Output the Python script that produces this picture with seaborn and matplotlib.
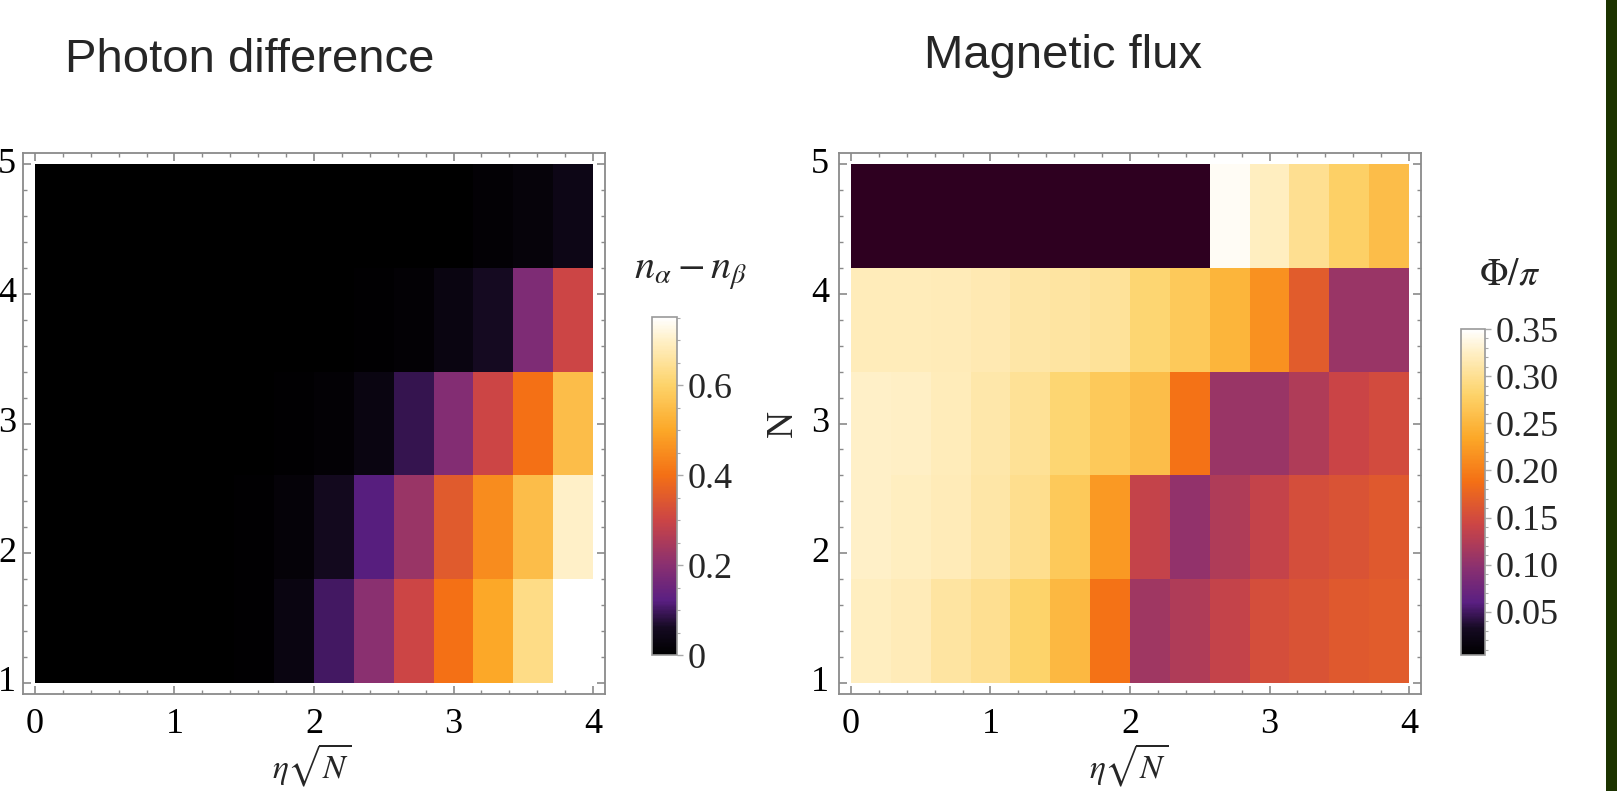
import numpy as np
import pandas as pd
import matplotlib
matplotlib.use("Agg")
import matplotlib.pyplot as plt
import seaborn as sns
from matplotlib.colors import LinearSegmentedColormap
from matplotlib.patches import Rectangle

sns.set_style("white")
plt.rcParams['font.family'] = ['Liberation Serif', 'DejaVu Serif']
plt.rcParams['mathtext.fontset'] = 'stix'

# grid: 14 columns over eta*sqrt(N) in [0, 4], rows N = 1..5
n_cols = 14
N_values = [5, 4, 3, 2, 1]

# photon difference n_alpha - n_beta
photon_N5 = [0, 0, 0, 0, 0, 0, 0, 0, 0, 0, 0, 0.01, 0.02, 0.04]
photon_N4 = [0, 0, 0, 0, 0, 0, 0, 0, 0.005, 0.01, 0.03, 0.06, 0.18, 0.30]
photon_N3 = [0, 0, 0, 0, 0, 0, 0.005, 0.01, 0.03, 0.09, 0.19, 0.30, 0.40, 0.55]
photon_N2 = [0, 0, 0, 0, 0, 0.005, 0.015, 0.055, 0.12, 0.225, 0.35, 0.45, 0.55, 0.70]
photon_N1 = [0, 0, 0, 0, 0, 0.005, 0.03, 0.10, 0.20, 0.30, 0.40, 0.50, 0.63, 0.75]

# magnetic flux Phi/pi (0 = outside the colour range)
flux_N5 = [0, 0, 0, 0, 0, 0, 0, 0, 0, 0.345, 0.322, 0.30, 0.278, 0.258]
flux_N4 = [0.32, 0.32, 0.318, 0.316, 0.31, 0.307, 0.304, 0.285, 0.27, 0.248, 0.215, 0.167, 0.108, 0.108]
flux_N3 = [0.327, 0.325, 0.32, 0.312, 0.302, 0.285, 0.27, 0.258, 0.19, 0.108, 0.108, 0.122, 0.142, 0.15]
flux_N2 = [0.327, 0.322, 0.318, 0.31, 0.298, 0.27, 0.222, 0.138, 0.102, 0.122, 0.138, 0.152, 0.158, 0.165]
flux_N1 = [0.322, 0.318, 0.308, 0.30, 0.28, 0.252, 0.19, 0.112, 0.122, 0.138, 0.152, 0.158, 0.165, 0.167]

photon = pd.DataFrame([photon_N5, photon_N4, photon_N3, photon_N2, photon_N1], index=N_values)
flux = pd.DataFrame([flux_N5, flux_N4, flux_N3, flux_N2, flux_N1], index=N_values)

sunset = LinearSegmentedColormap.from_list("sunset", [
    (0.00, "#000000"), (0.08, "#150a22"), (0.16, "#5a1f82"), (0.267, "#8a3070"),
    (0.40, "#cc4545"), (0.533, "#f47015"), (0.667, "#fca828"), (0.80, "#fdd36a"),
    (0.933, "#fff0c8"), (1.00, "#ffffff")])
sunset_flux = sunset.copy()
sunset_flux.set_under("#2e0020")

fig = plt.figure(figsize=(16.23, 7.91), dpi=100)
W, H = 1623, 791

def px(x0, y0, x1, y1):
    return [x0 / W, 1 - y1 / H, (x1 - x0) / W, (y1 - y0) / H]

ax1 = fig.add_axes(px(23, 153, 605, 694))
cax1 = fig.add_axes(px(652, 317, 677, 655))
ax2 = fig.add_axes(px(839, 153, 1421, 694))
cax2 = fig.add_axes(px(1461, 329, 1485, 655))

sns.heatmap(photon, ax=ax1, cbar_ax=cax1, cmap=sunset, vmin=0, vmax=0.752,
            linewidths=0, rasterized=True)
sns.heatmap(flux, ax=ax2, cbar_ax=cax2, cmap=sunset_flux, vmin=0.0044, vmax=0.35,
            linewidths=0, rasterized=True)

gray = "#8a8a8a"
for ax in (ax1, ax2):
    for s in ax.spines.values():
        s.set_visible(True)
        s.set_color(gray)
        s.set_linewidth(1.3)
    ax.set_xlim(-0.30, n_cols + 0.30)
    ax.set_ylim(5.106, -0.106)
    xt = [0, 1, 2, 3, 4]
    ax.set_xticks([v * n_cols / 4 for v in xt])
    ax.set_xticklabels([str(v) for v in xt], rotation=0)
    ax.set_xticks([v * n_cols / 4 for v in np.arange(0, 4.01, 0.2)], minor=True)
    yt = [1, 2, 3, 4, 5]
    ax.set_yticks([(5 - v) * 1.25 for v in yt])
    ax.set_yticklabels([str(v) for v in yt], rotation=0)
    ax.set_yticks([(5 - v) * 1.25 for v in np.arange(1, 5.01, 0.2)], minor=True)
    ax.tick_params(which='both', direction='in', top=True, right=True,
                   bottom=True, left=True, color=gray, labelcolor='black')
    ax.tick_params(which='major', length=6, width=1.2, labelsize=26)
    ax.tick_params(which='minor', length=3, width=1.0)
    ax.tick_params(axis='x', pad=10)
    ax.set_xlabel("")
    ax.set_ylabel("")

ax1.tick_params(axis='y', pad=5)
ax2.tick_params(axis='y', pad=7)
ax2.set_ylabel("N", fontsize=27, labelpad=8)

cb1 = ax1.collections[0].colorbar
cb1.set_ticks([0, 0.2, 0.4, 0.6], labels=["0", "0.2", "0.4", "0.6"])
cb1.set_ticks(np.arange(0, 0.751, 0.05), minor=True)
cb2 = ax2.collections[0].colorbar
cb2.set_ticks([0.05, 0.10, 0.15, 0.20, 0.25, 0.30, 0.35],
              labels=["0.05", "0.10", "0.15", "0.20", "0.25", "0.30", "0.35"])
cb2.set_ticks(np.arange(0.01, 0.351, 0.01), minor=True)
for cb in (cb1, cb2):
    cb.outline.set_edgecolor("#999999")
    cb.outline.set_linewidth(1.2)
    cb.ax.tick_params(which='both', direction='out', color="#aaaaaa", labelsize=26)
    cb.ax.tick_params(which='major', length=4, width=1.0, pad=4)
    cb.ax.tick_params(which='minor', length=2.5, width=0.8)

fig.text(65 / W, 1 - 72 / H, "Photon difference", family="Liberation Sans",
         fontsize=34, ha="left", va="baseline")
fig.text(924 / W, 1 - 68 / H, "Magnetic flux", family="Liberation Sans",
         fontsize=34, ha="left", va="baseline")
fig.text(691 / W, 1 - 274 / H, r"$n_\alpha - n_\beta$", fontsize=29, ha="center", va="center")
fig.text(1510 / W, 1 - 275 / H, r"$\Phi/\pi$", fontsize=27, ha="center", va="center")
fig.text(312 / W, 2 / H, r"$\eta\sqrt{N}$", fontsize=24, ha="center", va="bottom")
fig.text(1129 / W, 2 / H, r"$\eta\sqrt{N}$", fontsize=24, ha="center", va="bottom")

fig.patches.append(Rectangle((1606 / W, 0), 11 / W, 1, transform=fig.transFigure,
                             facecolor="#1c3300", edgecolor="none"))

fig.savefig("out.png", dpi=100)
